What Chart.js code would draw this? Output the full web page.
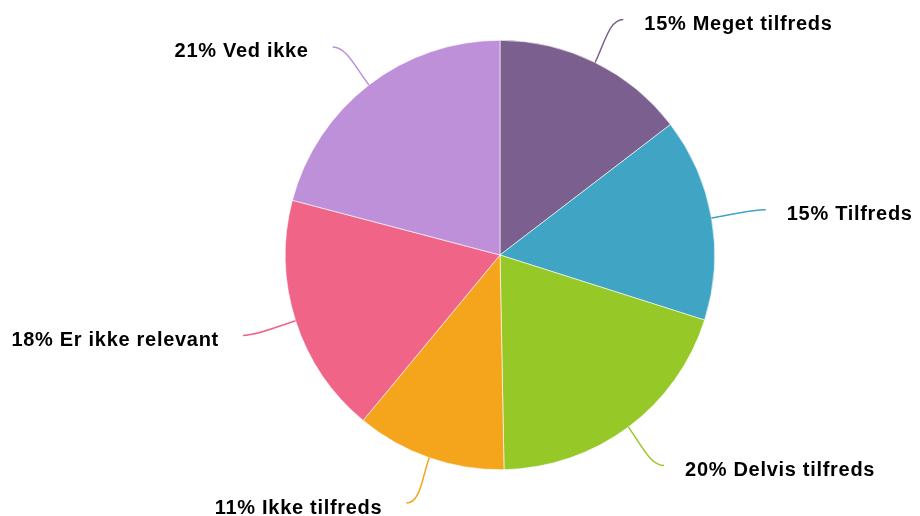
<!DOCTYPE html>
<html>
<head>
<meta charset="utf-8">
<script src="https://cdn.jsdelivr.net/npm/chart.js@4"></script>
<style>
  html, body { margin: 0; padding: 0; background: #fff; }
  #wrap { width: 920px; height: 516px; position: relative; }
</style>
</head>
<body>
<div id="wrap"><canvas id="pie"></canvas></div>
<script>
const categories = [
  "Meget tilfreds",
  "Tilfreds",
  "Delvis tilfreds",
  "Ikke tilfreds",
  "Er ikke relevant",
  "Ved ikke",
];
const shares = [14.6, 15.3, 19.8, 11.3, 18.1, 20.9];
const sliceColors = ["#7b5f8f", "#40a4c4", "#96c928", "#f4a51c", "#f06488", "#bf90da"];

const total = shares.reduce((a, b) => a + b, 0);
const pctLabels = shares.map((v, i) => `${Math.round((v / total) * 100)}% ${categories[i]}`);

// curved leader lines + labels outside the pie
const outLabels = {
  id: "outLabels",
  afterDatasetsDraw(chart) {
    const ctx = chart.ctx;
    const arcs = chart.getDatasetMeta(0).data;
    ctx.save();
    ctx.font = "bold 20px 'Liberation Sans', Arial, sans-serif";
    ctx.letterSpacing = "0.7px";
    ctx.textBaseline = "middle";
    arcs.forEach((arc, i) => {
      const { x, y, startAngle, endAngle, outerRadius } = arc.getProps(
        ["x", "y", "startAngle", "endAngle", "outerRadius"],
        true,
      );
      const mid = (startAngle + endAngle) / 2;
      const cos = Math.cos(mid);
      const sin = Math.sin(mid);
      const dir = cos >= 0 ? 1 : -1;
      const p0 = [x + outerRadius * cos, y + outerRadius * sin];
      const p1 = [x + (outerRadius + 22) * cos, y + (outerRadius + 22) * sin];
      const p3 = [x + (outerRadius + 48) * cos + dir * 7, y + (outerRadius + 48) * sin];
      const p2 = [p3[0] - dir * 14, p3[1]];

      ctx.strokeStyle = sliceColors[i];
      ctx.lineWidth = 1.5;
      ctx.beginPath();
      ctx.moveTo(p0[0], p0[1]);
      ctx.bezierCurveTo(p1[0], p1[1], p2[0], p2[1], p3[0], p3[1]);
      ctx.stroke();

      ctx.fillStyle = "#000";
      ctx.textAlign = dir > 0 ? "left" : "right";
      ctx.fillText(pctLabels[i], p3[0] + (dir > 0 ? 21 : -24), p3[1] + 5);
    });
    ctx.restore();
  },
};

new Chart(document.getElementById("pie"), {
  type: "pie",
  data: {
    labels: categories,
    datasets: [
      {
        data: shares,
        backgroundColor: sliceColors,
        borderColor: "#ffffff",
        borderWidth: 0.6,
      },
    ],
  },
  options: {
    responsive: true,
    maintainAspectRatio: false,
    animation: false,
    layout: { padding: { top: 40, bottom: 46, left: 285, right: 205 } },
    plugins: { legend: { display: false }, tooltip: { enabled: false } },
  },
  plugins: [outLabels],
});
</script>
</body>
</html>
